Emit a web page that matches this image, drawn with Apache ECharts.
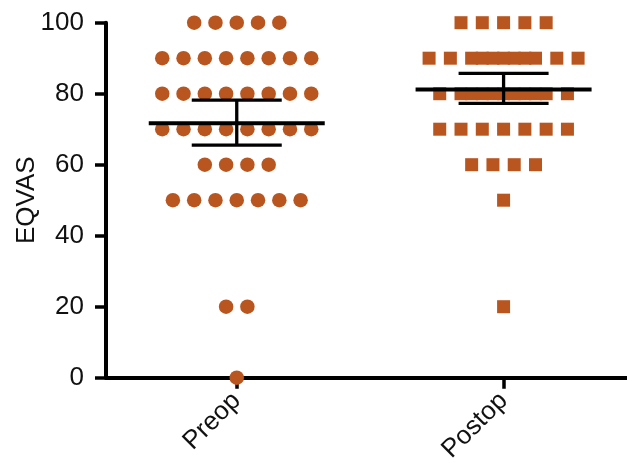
<!DOCTYPE html>
<html>
<head>
<meta charset="utf-8">
<script src="https://cdn.jsdelivr.net/npm/echarts@6/dist/echarts.min.js"></script>
<style>html,body{margin:0;padding:0;background:#fff;}#c{width:627px;height:465px;}</style>
</head>
<body>
<div id="c"></div>
<script>
const groupNames = ['Preop', 'Postop'];
const yLevels = [100, 90, 80, 70, 60, 50, 20, 0];
const preopCounts = [5, 8, 8, 8, 4, 7, 2, 1];
const postopCounts = [5, 8, 7, 7, 4, 1, 1, 0];
const postopOverlapCounts = [0, 3, 4, 0, 0, 0, 0, 0];
const means = [71.7, 81.2];
const errLow = [65.5, 77.3];
const errHigh = [78.2, 85.7];
const yTicks = [0, 20, 40, 60, 80, 100];

const PX_PER_UNIT = 267;
const SPACING = 21.3 / PX_PER_UNIT;
const COLOR = '#B9561F';
const FONT = '"Liberation Sans", Arial, Helvetica, sans-serif';

function rowPoints(center, value, n, extra) {
  const pts = [];
  for (let i = 0; i < n; i++) pts.push([center + (i - (n - 1) / 2) * SPACING, value]);
  if (extra > 0) {
    const gaps = n - 1;
    const start = (gaps - extra) / 2;
    for (let j = 0; j < extra; j++) {
      const gi = start + j;
      pts.push([center + (gi - (n - 2) / 2) * SPACING, value]);
    }
  }
  return pts;
}

const preopData = [];
yLevels.forEach((v, i) => preopData.push(...rowPoints(1, v, preopCounts[i], 0)));
const postopData = [];
yLevels.forEach((v, i) => postopData.push(...rowPoints(2, v, postopCounts[i], postopOverlapCounts[i])));

const errData = groupNames.map((g, i) => [i + 1, means[i], errLow[i], errHigh[i]]);

const chart = echarts.init(document.getElementById('c'));
chart.setOption({
  animation: false,
  backgroundColor: '#fff',
  grid: { left: 106, top: 22.7, width: 531, height: 355, containLabel: false, outerBoundsMode: 'none' },
  xAxis: {
    type: 'value', min: 0.51, max: 2.5,
    axisLine: { show: true, onZero: false, lineStyle: { color: '#000', width: 4 } },
    axisTick: { show: true, customValues: [1, 2], length: 11, inside: false, lineStyle: { color: '#000', width: 3.5 } },
    axisLabel: {
      show: true, customValues: [1, 2], rotate: 45, margin: 19,
      fontSize: 26, color: '#111', fontFamily: FONT,
      formatter: v => groupNames[Math.round(v) - 1] || ''
    },
    splitLine: { show: false }
  },
  yAxis: {
    type: 'value', min: 0, max: 100, interval: 20,
    name: 'EQVAS', nameLocation: 'middle', nameGap: 66, nameMoveOverlap: false,
    nameTextStyle: { fontSize: 26, color: '#111', fontFamily: FONT },
    axisLine: { show: true, lineStyle: { color: '#000', width: 4 } },
    axisTick: { show: true, length: 11, inside: false, lineStyle: { color: '#000', width: 3.5 } },
    axisLabel: { fontSize: 26, color: '#111', margin: 22, fontFamily: FONT,
      formatter: v => yTicks.indexOf(v) >= 0 ? String(v) : '' },
    splitLine: { show: false }
  },
  series: [
    { type: 'scatter', data: preopData, symbol: 'circle', symbolSize: 14.5, clip: false,
      itemStyle: { color: COLOR, opacity: 1 }, z: 3 },
    { type: 'scatter', data: postopData, symbol: 'rect', symbolSize: 13, clip: false,
      itemStyle: { color: COLOR, opacity: 1 }, z: 3 },
    { type: 'custom', data: errData, z: 5, clip: false,
      renderItem: function (params, api) {
        const x = api.value(0);
        const c = api.coord([x, api.value(1)]);
        const lo = api.coord([x, api.value(2)]);
        const hi = api.coord([x, api.value(3)]);
        const st = { stroke: '#000', lineWidth: 3.3 };
        return { type: 'group', children: [
          { type: 'line', shape: { x1: c[0] - 88, y1: c[1], x2: c[0] + 88, y2: c[1] }, style: { stroke: '#000', lineWidth: 4 } },
          { type: 'line', shape: { x1: c[0], y1: lo[1], x2: c[0], y2: hi[1] }, style: st },
          { type: 'line', shape: { x1: c[0] - 45, y1: lo[1], x2: c[0] + 45, y2: lo[1] }, style: st },
          { type: 'line', shape: { x1: c[0] - 45, y1: hi[1], x2: c[0] + 45, y2: hi[1] }, style: st }
        ] };
      }
    }
  ]
});
</script>
</body>
</html>
